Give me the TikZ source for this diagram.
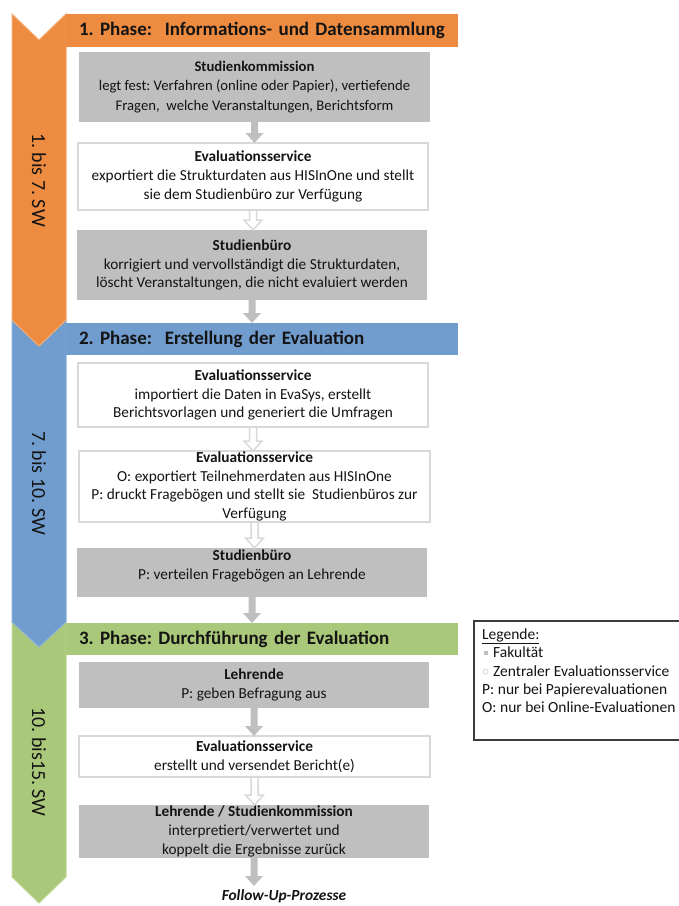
\documentclass[tikz,border=0pt]{standalone}
\usepackage{fontspec}
\setmainfont{Carlito}
\usetikzlibrary{calc}
\definecolor{orangeC}{RGB}{237,139,64}
\definecolor{orangeL}{RGB}{246,172,112}
\definecolor{blueC}{RGB}{112,156,206}
\definecolor{blueL}{RGB}{140,178,220}
\definecolor{greenC}{RGB}{170,200,121}
\definecolor{greenL}{RGB}{192,216,150}
\definecolor{boxgray}{RGB}{191,191,191}
\definecolor{boxline}{RGB}{217,217,217}
\definecolor{txt}{RGB}{20,20,20}
\definecolor{legline}{RGB}{60,60,60}
\newcommand\blockarrow[3]{%
  \path[#1] let \p1=(#2.south), \p2=(#3.north) in
    (\x1-3.5pt,\y1) -- (\x1-3.5pt,\y2+10pt) -- (\x1-9pt,\y2+10pt) -- (\x1,\y2)
    -- (\x1+9pt,\y2+10pt) -- (\x1+3.5pt,\y2+10pt) -- (\x1+3.5pt,\y1) -- cycle;}
\begin{document}
\frenchspacing
\begin{tikzpicture}[x=1pt,y=-1pt,
  box/.style={rectangle, inner sep=0pt, outer sep=0pt, align=center,
    font=\fontsize{15.3}{18.6}\selectfont, text=txt},
  graybox/.style={box, fill=boxgray},
  whitebox/.style={box, fill=white, draw=boxline, line width=2pt},
  hdr/.style={rectangle, inner xsep=13pt, inner ysep=0pt, outer sep=0pt,
    text width=366pt, align=left, text=txt,
    font=\fontsize{19}{21}\selectfont\bfseries},
  vlabel/.style={rotate=-90, text=txt, font=\fontsize{20}{21}\selectfont},
  solidarr/.style={fill=boxgray},
  hollowarr/.style={fill=white, draw=boxline, line width=1.5pt},
  leg/.style={anchor=base west, inner sep=0pt, text=txt,
    font=\fontsize{15.5}{17}\selectfont}
]
\clip (0,0) rectangle (679,906);
\fill[white] (0,0) rectangle (679,906);

% chevrons
\path[fill=greenC, draw=greenL, line width=1pt]
  (12,622) -- (39,647) -- (66,622) -- (66,877) -- (39,903) -- (12,877) -- cycle;
\path[fill=blueC, draw=blueL, line width=1pt]
  (12,320) -- (39,346) -- (66,320) -- (66,622) -- (39,647) -- (12,622) -- cycle;
\path[fill=orangeC, draw=orangeL, line width=1pt]
  (12,14) -- (39,40) -- (66,14) -- (66,320) -- (39,346) -- (12,320) -- cycle;

\node[vlabel] (l1) at (39,180) {1. bis 7. SW};
\node[vlabel] (l2) at (39,483) {7. bis 10. SW};
\node[vlabel] (l3) at (39,762) {10. bis15. SW};

% headers
\node[hdr, fill=orangeC, minimum height=33pt] (h1) at (262,30.5)
  {1. Phase:\ \ Informations- und Datensammlung};
\node[hdr, fill=blueC, minimum height=32pt] (h2) at (262,339)
  {2. Phase:\ \ Erstellung der Evaluation};
\node[hdr, fill=greenC, minimum height=32pt] (h3) at (262,639)
  {3. Phase: Durchführung der Evaluation};

% boxes
\node[graybox, minimum width=351pt, minimum height=70pt,
  font=\fontsize{14.7}{19.8}\selectfont] (b1) at (254.5,87)
  {\textbf{Studienkommission}\\legt fest: Verfahren (online oder Papier), vertiefende\\Fragen,\ \ welche Veranstaltungen, Berichtsform};
\node[whitebox, minimum width=350pt, minimum height=67pt] (b2) at (253,176.5)
  {\textbf{Evaluationsservice}\\exportiert die Strukturdaten aus HISInOne und stellt\\sie dem Studienbüro zur Verfügung};
\node[graybox, minimum width=350pt, minimum height=70pt] (b3) at (252,265)
  {\textbf{Studienbüro}\\korrigiert und vervollständigt die Strukturdaten,\\löscht Veranstaltungen, die nicht evaluiert werden};
\node[whitebox, minimum width=350pt, minimum height=64pt] (b4) at (253,395)
  {\textbf{Evaluationsservice}\\importiert die Daten in EvaSys, erstellt\\Berichtsvorlagen und generiert die Umfragen};
\node[whitebox, minimum width=351pt, minimum height=71pt] (b5) at (254.5,486.5)
  {\textbf{Evaluationsservice}\\O: exportiert Teilnehmerdaten aus HISInOne\\P: druckt Fragebögen und stellt sie\ \ Studienbüros zur\\Verfügung};
\node[graybox, minimum width=350pt, minimum height=49pt] (b6) at (252,572.5)
  {\textbf{Studienbüro}\\P: verteilen Fragebögen an Lehrende\\[-8pt]\strut};
\node[graybox, minimum width=350pt, minimum height=46pt] (b7) at (254,685)
  {\textbf{Lehrende}\\P: geben Befragung aus};
\node[whitebox, minimum width=351pt, minimum height=41pt] (b8) at (254.5,756.5)
  {\textbf{Evaluationsservice}\\erstellt und versendet Bericht(e)};
\node[graybox, minimum width=350pt, minimum height=53pt] (b9) at (254,831.5)
  {\textbf{Lehrende / Studienkommission}\\interpretiert/verwertet und\\koppelt die Ergebnisse zurück};

\node[anchor=north, inner sep=3pt, text=txt,
  font=\fontsize{15.4}{16}\selectfont\bfseries\itshape] (fu) at (284,886) {Follow-Up-Prozesse};

% arrows
\blockarrow{solidarr}{b1}{b2}
\blockarrow{hollowarr}{b2}{b3}
\blockarrow{solidarr}{b3}{h2}
\blockarrow{hollowarr}{b4}{b5}
\blockarrow{hollowarr}{b5}{b6}
\blockarrow{solidarr}{b6}{h3}
\blockarrow{solidarr}{b7}{b8}
\blockarrow{hollowarr}{b8}{b9}
\blockarrow{solidarr}{b9}{fu}

% legend
\draw[legline, line width=1.2pt] (474,621) rectangle (700,740);
\node[leg] (lg0) at (482,639) {\underline{Legende:}};
\fill[boxgray] (483.5,650.5) rectangle (487.5,654.5);
\node[leg] (lg1) at (493,657) {Fakultät};
\draw[boxline, line width=0.8pt] (485.5,671.5) circle (2.5);
\node[leg] (lg2) at (493,676) {Zentraler Evaluationsservice};
\node[leg] (lg3) at (482,694) {P: nur bei Papierevaluationen};
\node[leg] (lg4) at (482,712) {O: nur bei Online-Evaluationen};
\end{tikzpicture}
\end{document}
